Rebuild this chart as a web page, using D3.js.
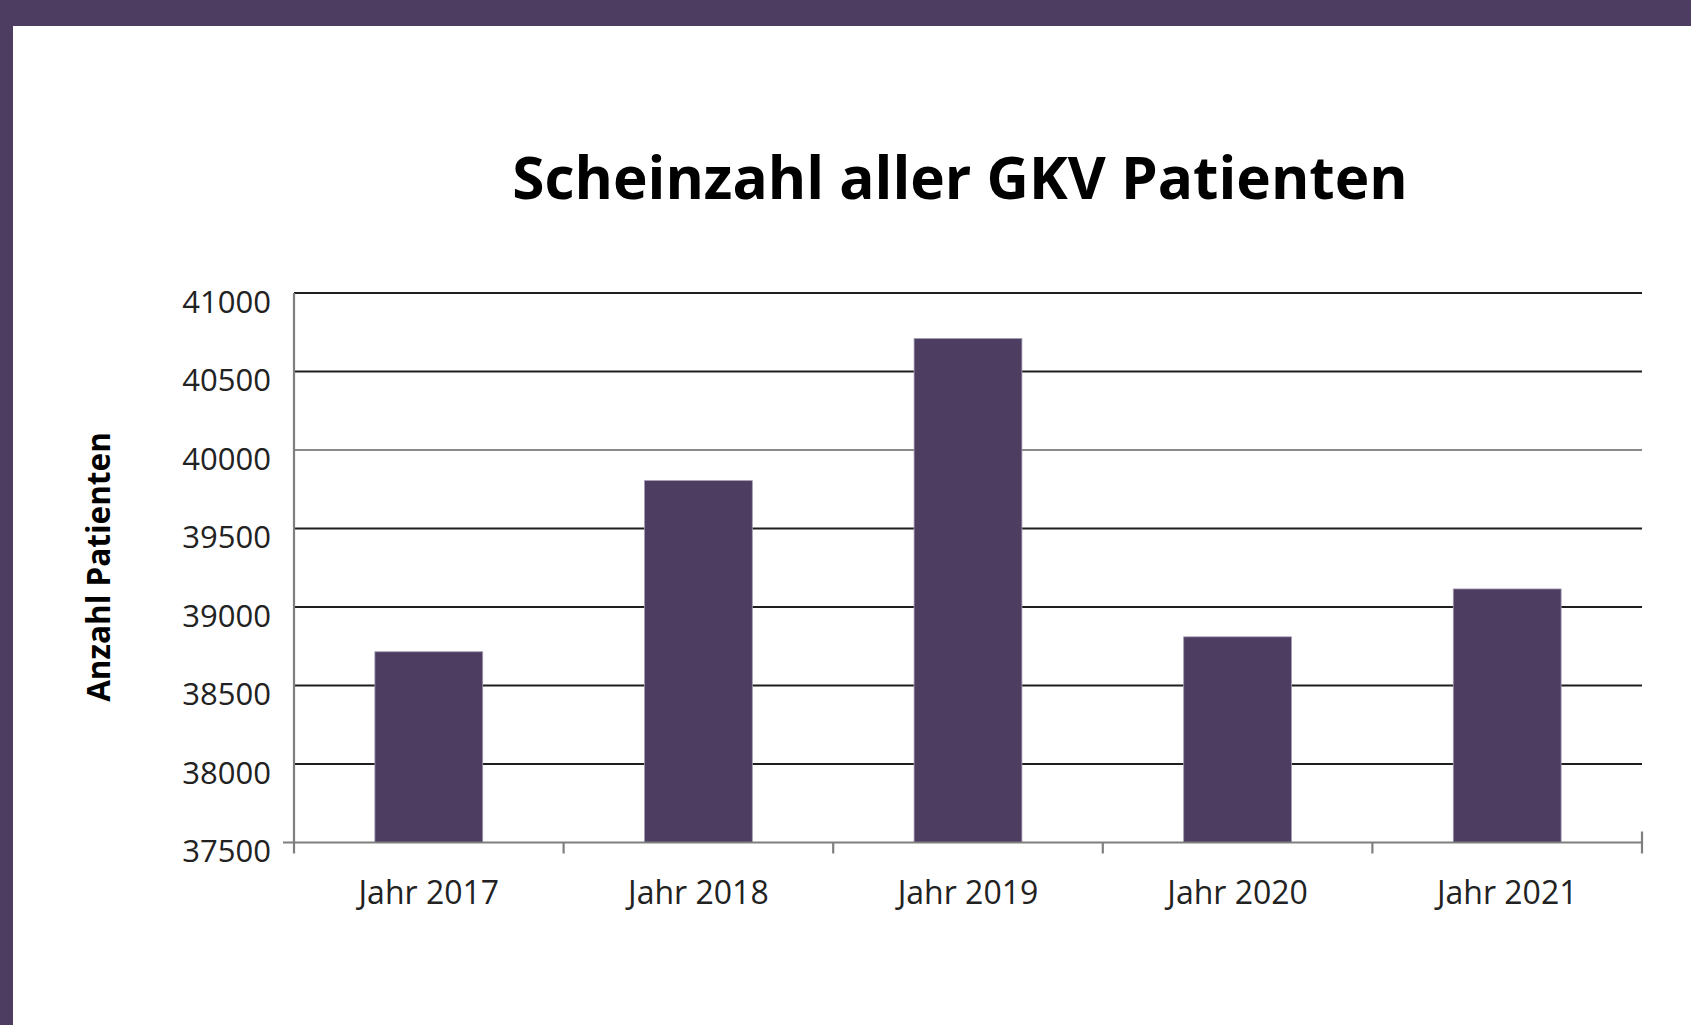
<!DOCTYPE html>
<html lang="de">
<head>
    <meta charset="UTF-8">
    <title>Scheinzahl aller GKV Patienten</title>
    <script src="https://d3js.org/d3.v7.min.js"></script>
    <style>
        body {
            margin: 0;
            background: #fff;
            font-family: "Open Sans", sans-serif;
        }
        svg { display: block; }
        .tick-label { fill: #222; font-size: 31px; font-family: "Open Sans", sans-serif; }
        .x-label { font-size: 32px; }
        .grid { stroke: #1e1e1e; stroke-width: 2.2; }
        .grid.mid { stroke: #8a8a8a; }
        .axis-line { stroke: #7f7f7f; stroke-width: 2.2; }
    </style>
</head>
<body>
    <svg id="chart" width="1691" height="1025"></svg>
    <script>
        const years = ["Jahr 2017", "Jahr 2018", "Jahr 2019", "Jahr 2020", "Jahr 2021"];
        const patients = [38715, 39805, 40710, 38810, 39115];
        const yTicks = [37500, 38000, 38500, 39000, 39500, 40000, 40500, 41000];

        const width = 1691;
        const height = 1025;
        const purple = "#4c3d61";

        const plotLeft = 294, plotRight = 1642, plotTop = 293, plotBottom = 842.5;

        const svg = d3.select("#chart");

        // frame: purple band on top and on the left
        svg.append("rect").attr("width", width).attr("height", height).attr("fill", purple);
        svg.append("rect")
           .attr("x", 13).attr("y", 26)
           .attr("width", width - 13).attr("height", height - 26)
           .attr("fill", "#fff");

        const x = d3.scaleBand().domain(years).range([plotLeft, plotRight]).padding(0);
        const y = d3.scaleLinear().domain([37500, 41000]).range([plotBottom, plotTop]);

        // title
        svg.append("text")
           .attr("x", 960).attr("y", 199)
           .attr("text-anchor", "middle")
           .attr("font-size", 58.5)
           .attr("font-weight", 700)
           .attr("fill", "#000")
           .text("Scheinzahl aller GKV Patienten");

        // y axis title
        svg.append("text")
           .attr("transform", "translate(110,567) rotate(-90)")
           .attr("text-anchor", "middle")
           .attr("font-size", 31.5)
           .attr("font-weight", 700)
           .attr("fill", "#000")
           .text("Anzahl Patienten");

        // gridlines
        svg.append("g")
           .selectAll("line")
           .data(yTicks.slice(1))
           .join("line")
           .attr("class", d => d === 40000 ? "grid mid" : "grid")
           .attr("x1", plotLeft).attr("x2", plotRight)
           .attr("y1", d => y(d)).attr("y2", d => y(d));

        // y tick labels
        const yAxis = svg.append("g")
           .attr("transform", `translate(${plotLeft},0)`)
           .call(d3.axisLeft(y).tickValues(yTicks).tickSize(0).tickPadding(23).tickFormat(d3.format("d")))
           .attr("font-family", null).attr("font-size", null);
        yAxis.select(".domain").remove();
        yAxis.selectAll("text").attr("class", "tick-label").attr("dy", "0.62em");

        // bars
        const barW = x.bandwidth() * 0.4;
        svg.append("g")
           .selectAll("rect")
           .data(years.map((c, i) => ({ c, v: patients[i] })))
           .join("rect")
           .attr("x", d => x(d.c) + (x.bandwidth() - barW) / 2)
           .attr("y", d => y(d.v))
           .attr("width", barW)
           .attr("height", d => y(37500) - y(d.v))
           .attr("fill", purple)
           .attr("stroke", "#a49cb3")
           .attr("stroke-width", 0.8);

        // axis lines
        svg.append("line").attr("class", "axis-line")
           .attr("x1", plotLeft).attr("x2", plotLeft).attr("y1", plotTop).attr("y2", plotBottom + 11);
        svg.append("line").attr("class", "axis-line")
           .attr("x1", plotLeft - 11).attr("x2", plotRight).attr("y1", plotBottom).attr("y2", plotBottom);

        const bounds = years.map(c => x(c)).concat([plotRight]);
        svg.append("g")
           .selectAll("line")
           .data(bounds.slice(1))
           .join("line")
           .attr("class", "axis-line")
           .attr("x1", d => d).attr("x2", d => d)
           .attr("y1", (d, i) => i === bounds.length - 2 ? plotBottom - 11 : plotBottom)
           .attr("y2", plotBottom + 11);

        // x labels
        const xAxis = svg.append("g")
           .attr("transform", `translate(0,${plotBottom})`)
           .call(d3.axisBottom(x).tickSize(0).tickPadding(39))
           .attr("font-family", null).attr("font-size", null);
        xAxis.select(".domain").remove();
        xAxis.selectAll("text").attr("class", "tick-label x-label").attr("dy", "0.71em");
    </script>
</body>
</html>
